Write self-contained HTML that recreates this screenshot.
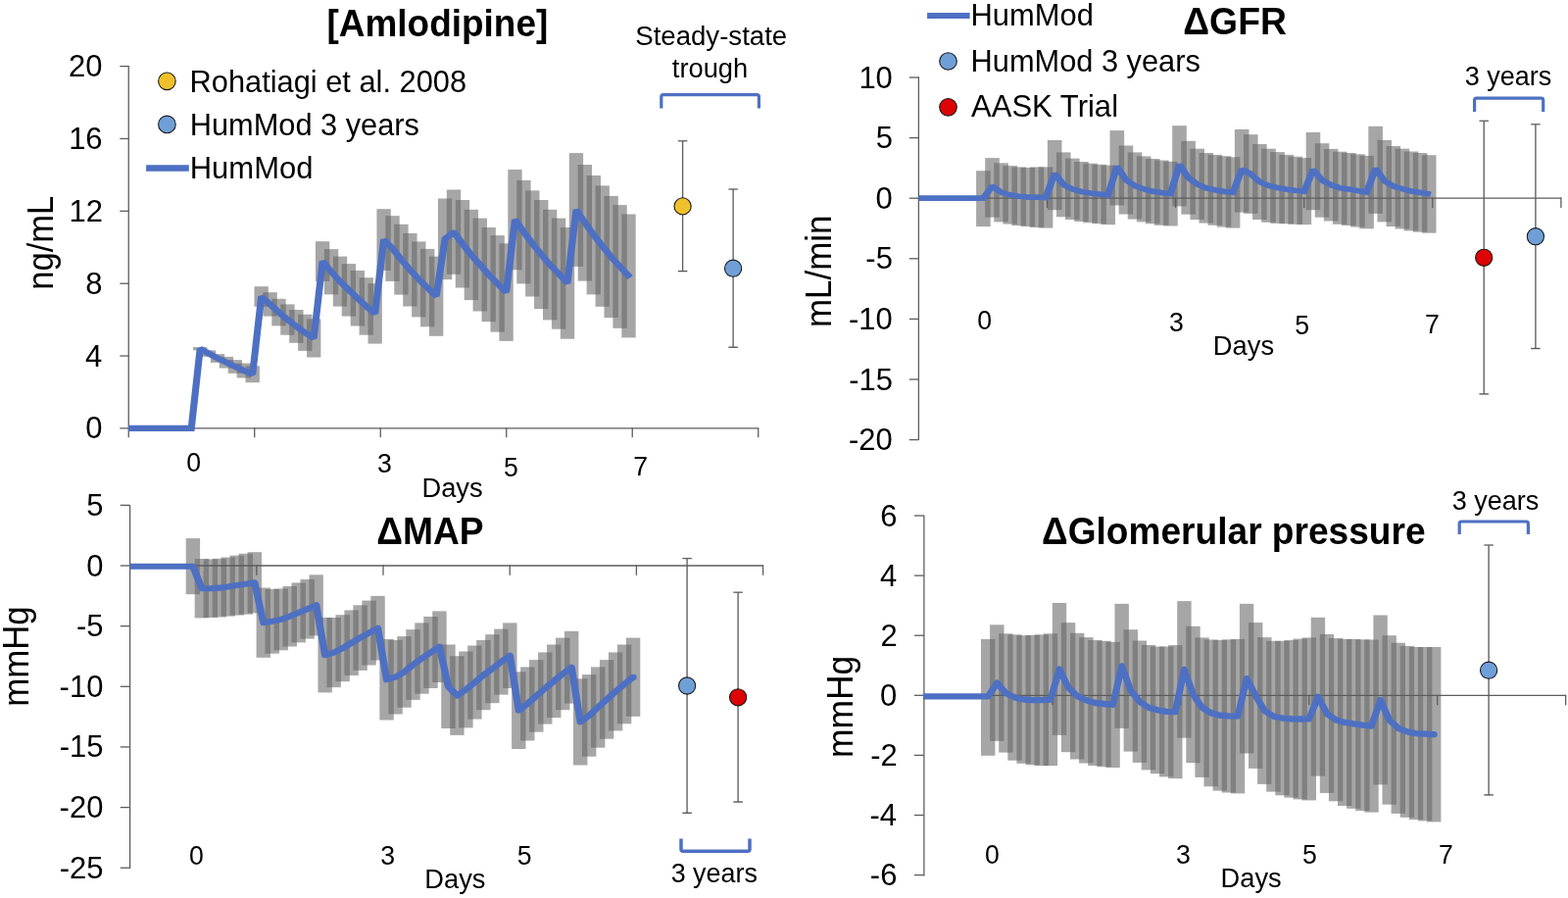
<!DOCTYPE html>
<html lang="en">
<head>
<meta charset="utf-8">
<title>Amlodipine HumMod simulation figure</title>
<style>
html,body{margin:0;padding:0;background:#fff;}
body{width:1600px;height:916px;overflow:hidden;}
svg{display:block;}
svg text{font-family:"Liberation Sans",sans-serif;fill:#000;}
</style>
</head>
<body>
<svg width="1600" height="916" viewBox="0 0 1600 916">
<rect x="0" y="0" width="1600" height="916" fill="#ffffff"/>
<g fill="#646464" fill-opacity="0.573" shape-rendering="auto">
<rect x="197.00" y="354.10" width="14.35" height="3.20"/>
<rect x="205.93" y="357.30" width="14.35" height="6.60"/>
<rect x="214.85" y="361.10" width="14.35" height="8.80"/>
<rect x="223.78" y="363.90" width="14.35" height="11.60"/>
<rect x="232.70" y="367.10" width="14.35" height="13.70"/>
<rect x="241.62" y="370.50" width="14.35" height="15.00"/>
<rect x="250.55" y="373.30" width="14.35" height="16.90"/>
<rect x="259.48" y="292.20" width="14.35" height="20.60"/>
<rect x="268.40" y="298.20" width="14.35" height="24.40"/>
<rect x="277.32" y="304.80" width="14.35" height="27.60"/>
<rect x="286.25" y="310.40" width="14.35" height="31.30"/>
<rect x="295.18" y="316.00" width="14.35" height="33.80"/>
<rect x="304.10" y="320.70" width="14.35" height="37.20"/>
<rect x="313.02" y="325.40" width="14.35" height="39.10"/>
<rect x="321.95" y="246.20" width="14.35" height="40.70"/>
<rect x="330.88" y="254.10" width="14.35" height="46.30"/>
<rect x="339.80" y="261.60" width="14.35" height="51.00"/>
<rect x="348.73" y="269.10" width="14.35" height="53.50"/>
<rect x="357.65" y="276.00" width="14.35" height="56.50"/>
<rect x="366.58" y="283.20" width="14.35" height="58.50"/>
<rect x="375.50" y="289.20" width="14.35" height="61.40"/>
<rect x="384.43" y="213.20" width="14.35" height="62.80"/>
<rect x="393.35" y="220.20" width="14.35" height="66.70"/>
<rect x="402.27" y="228.80" width="14.35" height="71.80"/>
<rect x="411.20" y="238.00" width="14.35" height="74.50"/>
<rect x="420.12" y="246.40" width="14.35" height="77.00"/>
<rect x="429.05" y="253.90" width="14.35" height="79.40"/>
<rect x="437.98" y="261.60" width="14.35" height="81.20"/>
<rect x="446.90" y="202.50" width="14.35" height="82.60"/>
<rect x="455.83" y="193.50" width="14.35" height="86.30"/>
<rect x="464.75" y="204.00" width="14.35" height="89.50"/>
<rect x="473.68" y="213.80" width="14.35" height="92.30"/>
<rect x="482.60" y="222.60" width="14.35" height="94.90"/>
<rect x="491.53" y="232.00" width="14.35" height="96.20"/>
<rect x="500.45" y="240.10" width="14.35" height="98.50"/>
<rect x="509.38" y="248.30" width="14.35" height="99.60"/>
<rect x="518.30" y="172.90" width="14.35" height="102.40"/>
<rect x="527.23" y="183.90" width="14.35" height="105.50"/>
<rect x="536.15" y="194.30" width="14.35" height="108.20"/>
<rect x="545.08" y="204.00" width="14.35" height="111.10"/>
<rect x="554.00" y="213.80" width="14.35" height="112.60"/>
<rect x="562.92" y="222.60" width="14.35" height="113.10"/>
<rect x="571.85" y="232.00" width="14.35" height="113.70"/>
<rect x="580.78" y="156.10" width="14.35" height="115.80"/>
<rect x="589.70" y="168.00" width="14.35" height="118.60"/>
<rect x="598.62" y="179.00" width="14.35" height="121.40"/>
<rect x="607.55" y="189.40" width="14.35" height="123.40"/>
<rect x="616.48" y="199.90" width="14.35" height="124.20"/>
<rect x="625.40" y="209.10" width="14.35" height="125.70"/>
<rect x="634.33" y="218.50" width="14.35" height="125.90"/>
</g>
<line x1="131.25" y1="66.95" x2="131.25" y2="446.30" stroke="#5c5c5c" stroke-width="1.3" />
<line x1="122.30" y1="436.90" x2="773.75" y2="436.90" stroke="#5c5c5c" stroke-width="1.3" />
<line x1="122.30" y1="363.04" x2="131.25" y2="363.04" stroke="#5c5c5c" stroke-width="1.3" />
<line x1="122.30" y1="289.18" x2="131.25" y2="289.18" stroke="#5c5c5c" stroke-width="1.3" />
<line x1="122.30" y1="215.32" x2="131.25" y2="215.32" stroke="#5c5c5c" stroke-width="1.3" />
<line x1="122.30" y1="141.46" x2="131.25" y2="141.46" stroke="#5c5c5c" stroke-width="1.3" />
<line x1="122.30" y1="67.60" x2="131.25" y2="67.60" stroke="#5c5c5c" stroke-width="1.3" />
<line x1="259.75" y1="436.25" x2="259.75" y2="446.30" stroke="#5c5c5c" stroke-width="1.3" />
<line x1="388.25" y1="436.25" x2="388.25" y2="446.30" stroke="#5c5c5c" stroke-width="1.3" />
<line x1="516.75" y1="436.25" x2="516.75" y2="446.30" stroke="#5c5c5c" stroke-width="1.3" />
<line x1="645.25" y1="436.25" x2="645.25" y2="446.30" stroke="#5c5c5c" stroke-width="1.3" />
<line x1="773.75" y1="436.25" x2="773.75" y2="446.30" stroke="#5c5c5c" stroke-width="1.3" />
<polyline transform="scale(1.17,1)" points="112.18,436.90 166.88,436.90 174.51,355.70 182.14,360.60 189.76,365.50 197.39,369.70 205.02,373.95 212.65,378.00 220.28,381.75 227.91,302.50 235.53,310.40 243.16,318.60 250.79,326.05 258.42,332.90 266.05,339.30 273.68,344.95 281.30,266.55 288.93,277.25 296.56,287.10 304.19,295.85 311.82,304.25 319.44,312.45 327.07,319.90 334.70,244.60 342.33,253.55 349.96,264.70 357.59,275.25 365.21,284.90 372.84,293.60 380.47,302.20 388.10,243.80 395.73,236.65 403.35,248.75 410.98,259.95 418.61,270.05 426.24,280.10 433.87,289.35 441.50,298.10 449.12,224.10 456.75,236.65 464.38,248.40 472.01,259.55 479.64,270.10 487.26,279.15 494.89,288.85 502.52,214.00 510.15,227.30 517.78,239.70 525.41,251.10 533.03,262.00 540.66,271.95 549.58,283.05" fill="none" stroke="#4e70c3" stroke-width="6.1" stroke-linecap="butt" stroke-linejoin="miter" stroke-miterlimit="1.5"/>
<circle cx="170.40" cy="82.80" r="8.8" fill="#f0c02c" stroke="#1a1a1a" stroke-width="1.1"/>
<circle cx="170.40" cy="126.90" r="8.8" fill="#709fd8" stroke="#1a1a1a" stroke-width="1.1"/>
<line x1="149.10" y1="171.50" x2="192.80" y2="171.50" stroke="#4e70c3" stroke-width="6.7" />
<path d="M674.80,110.40 L674.80,98.60 Q674.80,96.60 676.80,96.60 L772.40,96.60 Q774.40,96.60 774.40,98.60 L774.40,110.40" fill="none" stroke="#4e70c3" stroke-width="3.2"/>
<line x1="696.60" y1="143.80" x2="696.60" y2="276.60" stroke="#5e5e5e" stroke-width="1.35" />
<line x1="691.85" y1="143.80" x2="701.35" y2="143.80" stroke="#5e5e5e" stroke-width="1.3" />
<line x1="691.85" y1="276.60" x2="701.35" y2="276.60" stroke="#555555" stroke-width="1.35" />
<circle cx="696.60" cy="210.40" r="8.6" fill="#f0c02c" stroke="#1a1a1a" stroke-width="1.1"/>
<line x1="748.10" y1="193.00" x2="748.10" y2="354.20" stroke="#5e5e5e" stroke-width="1.35" />
<line x1="743.35" y1="193.00" x2="752.85" y2="193.00" stroke="#5e5e5e" stroke-width="1.3" />
<line x1="743.35" y1="354.20" x2="752.85" y2="354.20" stroke="#555555" stroke-width="1.35" />
<circle cx="748.10" cy="273.70" r="8.6" fill="#709fd8" stroke="#1a1a1a" stroke-width="1.1"/>
<text transform="translate(87.18,447.40) scale(0.9609,1)" font-size="32.26">0</text>
<text transform="translate(87.02,373.54) scale(0.9609,1)" font-size="32.26">4</text>
<text transform="translate(87.33,299.68) scale(0.9609,1)" font-size="32.26">8</text>
<text transform="translate(70.44,225.82) scale(0.9609,1)" font-size="32.26">12</text>
<text transform="translate(70.13,151.96) scale(0.9609,1)" font-size="32.26">16</text>
<text transform="translate(69.98,78.10) scale(0.9609,1)" font-size="32.26">20</text>
<text transform="translate(54.00,295.80) rotate(-90) scale(0.9494,1)" font-size="36.42">ng/mL</text>
<text transform="translate(333.47,37.00) scale(0.9600,1)" font-size="38.51" font-weight="bold">[Amlodipine]</text>
<text transform="translate(193.54,93.50) scale(0.9549,1)" font-size="32.26">Rohatiagi et al. 2008</text>
<text transform="translate(193.74,137.50) scale(0.9539,1)" font-size="32.26">HumMod 3 years</text>
<text transform="translate(193.72,181.50) scale(0.9608,1)" font-size="32.26">HumMod</text>
<text transform="translate(648.26,46.20) scale(0.9945,1)" font-size="27.76">Steady-state</text>
<text transform="translate(685.79,79.30) scale(0.9847,1)" font-size="27.76">trough</text>
<text transform="translate(190.13,480.70) scale(0.9609,1)" font-size="27.76">0</text>
<text transform="translate(385.10,482.20) scale(0.9609,1)" font-size="27.76">3</text>
<text transform="translate(513.95,485.70) scale(0.9609,1)" font-size="27.76">5</text>
<text transform="translate(646.35,485.30) scale(0.9609,1)" font-size="27.76">7</text>
<text transform="translate(430.41,506.75) scale(0.9852,1)" font-size="27.76">Days</text>
<g fill="#646464" fill-opacity="0.573" shape-rendering="auto">
<rect x="996.10" y="174.20" width="14.60" height="56.90"/>
<rect x="1005.20" y="161.10" width="14.60" height="60.60"/>
<rect x="1014.29" y="166.30" width="14.60" height="60.10"/>
<rect x="1023.39" y="169.10" width="14.60" height="59.50"/>
<rect x="1032.48" y="170.40" width="14.60" height="59.70"/>
<rect x="1041.58" y="171.00" width="14.60" height="60.10"/>
<rect x="1050.68" y="170.40" width="14.60" height="61.60"/>
<rect x="1059.77" y="170.40" width="14.60" height="62.20"/>
<rect x="1068.87" y="142.90" width="14.60" height="71.30"/>
<rect x="1077.96" y="155.40" width="14.60" height="65.90"/>
<rect x="1087.06" y="161.60" width="14.60" height="62.50"/>
<rect x="1096.16" y="165.00" width="14.60" height="61.00"/>
<rect x="1105.25" y="166.70" width="14.60" height="60.60"/>
<rect x="1114.35" y="167.80" width="14.60" height="60.50"/>
<rect x="1123.44" y="168.60" width="14.60" height="60.60"/>
<rect x="1132.54" y="133.10" width="14.60" height="76.40"/>
<rect x="1141.64" y="148.50" width="14.60" height="70.00"/>
<rect x="1150.73" y="155.40" width="14.60" height="68.20"/>
<rect x="1159.83" y="159.40" width="14.60" height="67.00"/>
<rect x="1168.92" y="162.00" width="14.60" height="66.30"/>
<rect x="1178.02" y="163.50" width="14.60" height="66.30"/>
<rect x="1187.12" y="164.80" width="14.60" height="65.70"/>
<rect x="1196.21" y="128.20" width="14.60" height="82.20"/>
<rect x="1205.31" y="143.80" width="14.60" height="74.90"/>
<rect x="1214.40" y="151.70" width="14.60" height="72.40"/>
<rect x="1223.50" y="156.00" width="14.60" height="71.60"/>
<rect x="1232.60" y="157.90" width="14.60" height="71.90"/>
<rect x="1241.69" y="159.20" width="14.60" height="72.40"/>
<rect x="1250.79" y="160.30" width="14.60" height="72.30"/>
<rect x="1259.88" y="132.00" width="14.60" height="84.60"/>
<rect x="1268.98" y="137.20" width="14.60" height="80.70"/>
<rect x="1278.08" y="147.00" width="14.60" height="77.10"/>
<rect x="1287.17" y="151.70" width="14.60" height="75.10"/>
<rect x="1296.27" y="155.10" width="14.60" height="72.80"/>
<rect x="1305.36" y="157.90" width="14.60" height="70.40"/>
<rect x="1314.46" y="159.70" width="14.60" height="69.10"/>
<rect x="1323.56" y="161.10" width="14.60" height="68.10"/>
<rect x="1332.65" y="135.00" width="14.60" height="79.20"/>
<rect x="1341.75" y="146.20" width="14.60" height="75.50"/>
<rect x="1350.84" y="151.90" width="14.60" height="73.60"/>
<rect x="1359.94" y="154.70" width="14.60" height="74.10"/>
<rect x="1369.04" y="156.00" width="14.60" height="74.10"/>
<rect x="1378.13" y="157.30" width="14.60" height="74.30"/>
<rect x="1387.23" y="158.80" width="14.60" height="74.50"/>
<rect x="1396.32" y="128.80" width="14.60" height="89.10"/>
<rect x="1405.42" y="142.90" width="14.60" height="83.50"/>
<rect x="1414.52" y="149.00" width="14.60" height="82.10"/>
<rect x="1423.61" y="151.70" width="14.60" height="81.80"/>
<rect x="1432.71" y="154.50" width="14.60" height="80.90"/>
<rect x="1441.80" y="156.00" width="14.60" height="80.70"/>
<rect x="1450.90" y="158.20" width="14.60" height="79.50"/>
</g>
<line x1="937.40" y1="78.15" x2="937.40" y2="449.05" stroke="#5c5c5c" stroke-width="1.3" />
<line x1="937.40" y1="202.20" x2="1593.20" y2="202.20" stroke="#5c5c5c" stroke-width="1.3" />
<line x1="927.80" y1="448.60" x2="937.40" y2="448.60" stroke="#5c5c5c" stroke-width="1.3" />
<line x1="927.80" y1="387.00" x2="937.40" y2="387.00" stroke="#5c5c5c" stroke-width="1.3" />
<line x1="927.80" y1="325.40" x2="937.40" y2="325.40" stroke="#5c5c5c" stroke-width="1.3" />
<line x1="927.80" y1="263.80" x2="937.40" y2="263.80" stroke="#5c5c5c" stroke-width="1.3" />
<line x1="927.80" y1="202.20" x2="937.40" y2="202.20" stroke="#5c5c5c" stroke-width="1.3" />
<line x1="927.80" y1="140.60" x2="937.40" y2="140.60" stroke="#5c5c5c" stroke-width="1.3" />
<line x1="927.80" y1="79.00" x2="937.40" y2="79.00" stroke="#5c5c5c" stroke-width="1.3" />
<line x1="1068.50" y1="201.55" x2="1068.50" y2="211.90" stroke="#5c5c5c" stroke-width="1.3" />
<line x1="1199.60" y1="201.55" x2="1199.60" y2="211.90" stroke="#5c5c5c" stroke-width="1.3" />
<line x1="1330.70" y1="201.55" x2="1330.70" y2="211.90" stroke="#5c5c5c" stroke-width="1.3" />
<line x1="1461.80" y1="201.55" x2="1461.80" y2="211.90" stroke="#5c5c5c" stroke-width="1.3" />
<line x1="1592.90" y1="201.55" x2="1592.90" y2="211.90" stroke="#5c5c5c" stroke-width="1.3" />
<polyline transform="scale(1.25,1)" points="749.92,202.20 802.72,202.20 810.00,189.90 817.27,196.35 824.55,198.85 831.83,200.25 839.10,201.05 846.38,201.20 853.66,201.50 860.93,177.05 868.21,188.35 875.49,192.85 882.76,195.50 890.04,197.00 897.32,198.05 904.60,198.90 911.87,169.80 919.15,183.50 926.43,189.50 933.70,192.90 940.98,195.15 948.26,196.65 955.53,197.65 962.81,167.80 970.09,181.25 977.36,187.90 984.64,191.80 991.92,193.85 999.19,195.40 1006.47,196.45 1013.75,172.80 1021.02,177.55 1028.30,185.55 1035.58,189.25 1042.85,191.50 1050.13,193.10 1057.41,194.25 1064.68,195.15 1071.96,173.10 1079.24,183.95 1086.52,188.70 1093.79,191.75 1101.07,193.05 1108.35,194.45 1115.62,196.05 1122.90,171.85 1130.18,184.65 1137.45,190.05 1144.73,192.60 1152.01,194.95 1159.28,196.35 1167.98,198.26" fill="none" stroke="#4e70c3" stroke-width="5.7" stroke-linecap="butt" stroke-linejoin="miter" stroke-miterlimit="1.5"/>
<line x1="946.10" y1="15.95" x2="989.60" y2="15.95" stroke="#4e70c3" stroke-width="5.9" />
<circle cx="967.50" cy="62.50" r="8.8" fill="#709fd8" stroke="#1a1a1a" stroke-width="1.1"/>
<circle cx="967.50" cy="109.30" r="8.8" fill="#dc0404" stroke="#1a1a1a" stroke-width="1.1"/>
<path d="M1504.60,114.00 L1504.60,102.20 Q1504.60,100.20 1506.60,100.20 L1572.70,100.20 Q1574.70,100.20 1574.70,102.20 L1574.70,114.00" fill="none" stroke="#4e70c3" stroke-width="3.2"/>
<line x1="1514.20" y1="123.30" x2="1514.20" y2="401.90" stroke="#5e5e5e" stroke-width="1.35" />
<line x1="1509.45" y1="123.30" x2="1518.95" y2="123.30" stroke="#5e5e5e" stroke-width="1.3" />
<line x1="1509.45" y1="401.90" x2="1518.95" y2="401.90" stroke="#555555" stroke-width="1.35" />
<circle cx="1514.20" cy="262.80" r="8.6" fill="#dc0404" stroke="#1a1a1a" stroke-width="1.1"/>
<line x1="1566.90" y1="126.80" x2="1566.90" y2="355.50" stroke="#5e5e5e" stroke-width="1.35" />
<line x1="1562.15" y1="126.80" x2="1571.65" y2="126.80" stroke="#5e5e5e" stroke-width="1.3" />
<line x1="1562.15" y1="355.50" x2="1571.65" y2="355.50" stroke="#555555" stroke-width="1.35" />
<circle cx="1566.90" cy="241.20" r="8.6" fill="#709fd8" stroke="#1a1a1a" stroke-width="1.1"/>
<text transform="translate(865.99,459.10) scale(0.9609,1)" font-size="32.26">-20</text>
<text transform="translate(866.15,397.50) scale(0.9609,1)" font-size="32.26">-15</text>
<text transform="translate(865.99,335.90) scale(0.9609,1)" font-size="32.26">-10</text>
<text transform="translate(883.35,274.30) scale(0.9609,1)" font-size="32.26">-5</text>
<text transform="translate(893.58,212.70) scale(0.9609,1)" font-size="32.26">0</text>
<text transform="translate(893.74,151.10) scale(0.9609,1)" font-size="32.26">5</text>
<text transform="translate(876.38,89.50) scale(0.9609,1)" font-size="32.26">10</text>
<text transform="translate(848.10,333.97) rotate(-90) scale(0.9585,1)" font-size="36.42">mL/min</text>
<text transform="translate(1207.26,34.60) scale(0.9698,1)" font-size="38.51" font-weight="bold">ΔGFR</text>
<text transform="translate(990.52,25.60) scale(0.9592,1)" font-size="32.26">HumMod</text>
<text transform="translate(990.54,72.60) scale(0.9547,1)" font-size="32.26">HumMod 3 years</text>
<text transform="translate(991.00,119.30) scale(0.9624,1)" font-size="32.26">AASK Trial</text>
<text transform="translate(1494.72,87.40) scale(0.9741,1)" font-size="27.76">3 years</text>
<text transform="translate(997.28,335.60) scale(0.9609,1)" font-size="27.76">0</text>
<text transform="translate(1193.00,338.20) scale(0.9609,1)" font-size="27.76">3</text>
<text transform="translate(1321.35,340.50) scale(0.9609,1)" font-size="27.76">5</text>
<text transform="translate(1454.10,340.20) scale(0.9609,1)" font-size="27.76">7</text>
<text transform="translate(1237.81,361.50) scale(0.9860,1)" font-size="27.76">Days</text>
<g fill="#646464" fill-opacity="0.573" shape-rendering="auto">
<rect x="189.70" y="549.10" width="14.40" height="57.10"/>
<rect x="198.68" y="570.00" width="14.40" height="60.40"/>
<rect x="207.67" y="570.40" width="14.40" height="59.60"/>
<rect x="216.65" y="569.80" width="14.40" height="59.70"/>
<rect x="225.64" y="568.50" width="14.40" height="60.10"/>
<rect x="234.62" y="566.60" width="14.40" height="61.00"/>
<rect x="243.60" y="564.70" width="14.40" height="62.00"/>
<rect x="252.59" y="563.20" width="14.40" height="62.20"/>
<rect x="261.57" y="599.50" width="14.40" height="71.30"/>
<rect x="270.56" y="601.00" width="14.40" height="65.70"/>
<rect x="279.54" y="600.40" width="14.40" height="62.90"/>
<rect x="288.52" y="598.00" width="14.40" height="61.50"/>
<rect x="297.51" y="594.40" width="14.40" height="61.00"/>
<rect x="306.49" y="591.00" width="14.40" height="60.60"/>
<rect x="315.48" y="586.30" width="14.40" height="62.00"/>
<rect x="324.46" y="629.90" width="14.40" height="76.50"/>
<rect x="333.44" y="630.00" width="14.40" height="71.10"/>
<rect x="342.43" y="627.20" width="14.40" height="68.00"/>
<rect x="351.41" y="622.40" width="14.40" height="66.60"/>
<rect x="360.40" y="617.30" width="14.40" height="66.60"/>
<rect x="369.38" y="612.60" width="14.40" height="65.90"/>
<rect x="378.36" y="607.90" width="14.40" height="65.60"/>
<rect x="387.35" y="651.90" width="14.40" height="82.60"/>
<rect x="396.33" y="652.90" width="14.40" height="75.60"/>
<rect x="405.32" y="649.10" width="14.40" height="72.60"/>
<rect x="414.30" y="642.20" width="14.40" height="71.70"/>
<rect x="423.28" y="635.40" width="14.40" height="72.30"/>
<rect x="432.27" y="629.00" width="14.40" height="73.00"/>
<rect x="441.25" y="623.40" width="14.40" height="72.60"/>
<rect x="450.24" y="657.50" width="14.40" height="85.50"/>
<rect x="459.22" y="669.20" width="14.40" height="80.70"/>
<rect x="468.20" y="664.50" width="14.40" height="77.90"/>
<rect x="477.19" y="658.50" width="14.40" height="75.10"/>
<rect x="486.17" y="652.90" width="14.40" height="71.30"/>
<rect x="495.16" y="647.20" width="14.40" height="70.00"/>
<rect x="504.14" y="641.60" width="14.40" height="67.00"/>
<rect x="513.12" y="635.40" width="14.40" height="66.60"/>
<rect x="522.11" y="685.30" width="14.40" height="78.70"/>
<rect x="531.09" y="680.40" width="14.40" height="75.10"/>
<rect x="540.08" y="673.10" width="14.40" height="73.60"/>
<rect x="549.06" y="665.40" width="14.40" height="73.20"/>
<rect x="558.04" y="657.50" width="14.40" height="74.60"/>
<rect x="567.03" y="650.60" width="14.40" height="73.60"/>
<rect x="576.01" y="643.80" width="14.40" height="73.80"/>
<rect x="585.00" y="692.30" width="14.40" height="88.20"/>
<rect x="593.98" y="688.10" width="14.40" height="83.60"/>
<rect x="602.96" y="680.40" width="14.40" height="82.30"/>
<rect x="611.95" y="673.10" width="14.40" height="80.60"/>
<rect x="620.93" y="665.40" width="14.40" height="80.00"/>
<rect x="629.92" y="657.50" width="14.40" height="80.80"/>
<rect x="638.90" y="650.60" width="14.40" height="80.20"/>
</g>
<line x1="132.60" y1="515.15" x2="132.60" y2="886.05" stroke="#5c5c5c" stroke-width="1.3" />
<line x1="132.60" y1="577.00" x2="778.90" y2="577.00" stroke="#5c5c5c" stroke-width="1.3" />
<line x1="122.80" y1="885.25" x2="132.60" y2="885.25" stroke="#5c5c5c" stroke-width="1.3" />
<line x1="122.80" y1="823.60" x2="132.60" y2="823.60" stroke="#5c5c5c" stroke-width="1.3" />
<line x1="122.80" y1="761.95" x2="132.60" y2="761.95" stroke="#5c5c5c" stroke-width="1.3" />
<line x1="122.80" y1="700.30" x2="132.60" y2="700.30" stroke="#5c5c5c" stroke-width="1.3" />
<line x1="122.80" y1="638.65" x2="132.60" y2="638.65" stroke="#5c5c5c" stroke-width="1.3" />
<line x1="122.80" y1="577.00" x2="132.60" y2="577.00" stroke="#5c5c5c" stroke-width="1.3" />
<line x1="122.80" y1="515.35" x2="132.60" y2="515.35" stroke="#5c5c5c" stroke-width="1.3" />
<line x1="261.80" y1="576.35" x2="261.80" y2="586.80" stroke="#5c5c5c" stroke-width="1.3" />
<line x1="391.00" y1="576.35" x2="391.00" y2="586.80" stroke="#5c5c5c" stroke-width="1.3" />
<line x1="520.20" y1="576.35" x2="520.20" y2="586.80" stroke="#5c5c5c" stroke-width="1.3" />
<line x1="649.40" y1="576.35" x2="649.40" y2="586.80" stroke="#5c5c5c" stroke-width="1.3" />
<line x1="778.60" y1="576.35" x2="778.60" y2="586.80" stroke="#5c5c5c" stroke-width="1.3" />
<polyline transform="scale(1.2,1)" points="110.50,577.80 164.08,577.80 171.57,600.20 179.06,600.20 186.54,599.65 194.03,598.55 201.52,597.10 209.00,595.70 216.49,594.30 223.98,635.15 231.46,633.85 238.95,631.85 246.44,628.75 253.92,624.90 261.41,621.30 268.90,617.30 276.38,668.15 283.87,665.55 291.36,661.20 298.84,655.70 306.33,650.60 313.82,645.55 321.30,640.70 328.79,693.20 336.28,690.70 343.76,685.40 351.25,678.05 358.74,671.55 366.22,665.50 373.71,659.70 381.20,700.25 388.68,709.55 396.17,703.45 403.66,696.05 411.14,688.55 418.63,682.20 426.12,675.10 433.60,668.70 441.09,724.65 448.58,717.95 456.06,709.90 463.55,702.00 471.04,694.80 478.52,687.40 486.01,680.70 493.50,736.40 500.98,729.90 508.47,721.55 515.96,713.40 523.44,705.40 530.93,697.90 538.42,690.70" fill="none" stroke="#4e70c3" stroke-width="6.1" stroke-linecap="butt" stroke-linejoin="round"/>
<ellipse cx="646.10" cy="690.70" rx="3.66" ry="3.05" fill="#4e70c3"/>
<line x1="701.10" y1="569.60" x2="701.10" y2="829.25" stroke="#5e5e5e" stroke-width="1.35" />
<line x1="696.35" y1="569.60" x2="705.85" y2="569.60" stroke="#5e5e5e" stroke-width="1.3" />
<line x1="696.35" y1="829.25" x2="705.85" y2="829.25" stroke="#555555" stroke-width="1.35" />
<circle cx="701.10" cy="699.50" r="8.6" fill="#709fd8" stroke="#1a1a1a" stroke-width="1.1"/>
<line x1="753.10" y1="604.20" x2="753.10" y2="818.00" stroke="#5e5e5e" stroke-width="1.35" />
<line x1="748.35" y1="604.20" x2="757.85" y2="604.20" stroke="#5e5e5e" stroke-width="1.3" />
<line x1="748.35" y1="818.00" x2="757.85" y2="818.00" stroke="#555555" stroke-width="1.35" />
<circle cx="753.10" cy="711.30" r="8.6" fill="#dc0404" stroke="#1a1a1a" stroke-width="1.1"/>
<path d="M695.00,855.50 L695.00,866.20 Q695.00,868.20 697.00,868.20 L763.00,868.20 Q765.00,868.20 765.00,866.20 L765.00,855.50" fill="none" stroke="#4e70c3" stroke-width="3.5"/>
<text transform="translate(60.74,895.75) scale(0.9609,1)" font-size="32.26">-25</text>
<text transform="translate(60.59,834.10) scale(0.9609,1)" font-size="32.26">-20</text>
<text transform="translate(60.74,772.45) scale(0.9609,1)" font-size="32.26">-15</text>
<text transform="translate(60.59,710.80) scale(0.9609,1)" font-size="32.26">-10</text>
<text transform="translate(77.95,649.15) scale(0.9609,1)" font-size="32.26">-5</text>
<text transform="translate(88.18,587.50) scale(0.9609,1)" font-size="32.26">0</text>
<text transform="translate(88.33,525.85) scale(0.9609,1)" font-size="32.26">5</text>
<text transform="translate(29.30,720.66) rotate(-90) scale(0.9548,1)" font-size="36.42">mmHg</text>
<text transform="translate(384.26,554.70) scale(0.9660,1)" font-size="38.51" font-weight="bold">ΔMAP</text>
<text transform="translate(684.67,899.80) scale(0.9696,1)" font-size="27.76">3 years</text>
<text transform="translate(192.93,881.80) scale(0.9609,1)" font-size="27.76">0</text>
<text transform="translate(388.20,881.80) scale(0.9609,1)" font-size="27.76">3</text>
<text transform="translate(527.85,881.80) scale(0.9609,1)" font-size="27.76">5</text>
<text transform="translate(433.32,906.00) scale(0.9819,1)" font-size="27.76">Days</text>
<g fill="#646464" fill-opacity="0.573" shape-rendering="auto">
<rect x="1001.00" y="651.90" width="14.40" height="118.90"/>
<rect x="1010.10" y="637.30" width="14.40" height="118.60"/>
<rect x="1019.20" y="646.30" width="14.40" height="121.30"/>
<rect x="1028.30" y="647.30" width="14.40" height="128.40"/>
<rect x="1037.40" y="648.20" width="14.40" height="130.60"/>
<rect x="1046.50" y="647.80" width="14.40" height="132.50"/>
<rect x="1055.60" y="647.30" width="14.40" height="133.80"/>
<rect x="1064.70" y="646.30" width="14.40" height="134.80"/>
<rect x="1073.80" y="615.00" width="14.40" height="134.90"/>
<rect x="1082.90" y="635.10" width="14.40" height="132.10"/>
<rect x="1092.00" y="645.80" width="14.40" height="128.70"/>
<rect x="1101.10" y="650.10" width="14.40" height="128.40"/>
<rect x="1110.20" y="652.90" width="14.40" height="128.20"/>
<rect x="1119.30" y="653.80" width="14.40" height="128.40"/>
<rect x="1128.40" y="654.80" width="14.40" height="128.20"/>
<rect x="1137.50" y="615.90" width="14.40" height="127.00"/>
<rect x="1146.60" y="642.20" width="14.40" height="124.40"/>
<rect x="1155.70" y="653.50" width="14.40" height="124.40"/>
<rect x="1164.80" y="658.00" width="14.40" height="127.40"/>
<rect x="1173.90" y="659.50" width="14.40" height="129.70"/>
<rect x="1183.00" y="659.50" width="14.40" height="132.90"/>
<rect x="1192.10" y="658.10" width="14.40" height="136.10"/>
<rect x="1201.20" y="613.10" width="14.40" height="139.60"/>
<rect x="1210.30" y="638.80" width="14.40" height="139.40"/>
<rect x="1219.40" y="650.40" width="14.40" height="142.50"/>
<rect x="1228.50" y="652.50" width="14.40" height="149.80"/>
<rect x="1237.60" y="652.90" width="14.40" height="153.70"/>
<rect x="1246.70" y="652.30" width="14.40" height="156.20"/>
<rect x="1255.80" y="651.90" width="14.40" height="157.50"/>
<rect x="1264.90" y="615.90" width="14.40" height="152.60"/>
<rect x="1274.00" y="635.10" width="14.40" height="148.80"/>
<rect x="1283.10" y="650.10" width="14.40" height="149.80"/>
<rect x="1292.20" y="653.80" width="14.40" height="153.80"/>
<rect x="1301.30" y="653.80" width="14.40" height="157.50"/>
<rect x="1310.40" y="652.90" width="14.40" height="160.70"/>
<rect x="1319.50" y="651.60" width="14.40" height="163.80"/>
<rect x="1328.60" y="650.40" width="14.40" height="166.00"/>
<rect x="1337.70" y="629.80" width="14.40" height="161.80"/>
<rect x="1346.80" y="646.90" width="14.40" height="162.00"/>
<rect x="1355.90" y="651.00" width="14.40" height="166.30"/>
<rect x="1365.00" y="651.90" width="14.40" height="170.10"/>
<rect x="1374.10" y="651.90" width="14.40" height="172.90"/>
<rect x="1383.20" y="652.30" width="14.40" height="174.80"/>
<rect x="1392.30" y="652.50" width="14.40" height="176.10"/>
<rect x="1401.40" y="627.50" width="14.40" height="172.90"/>
<rect x="1410.50" y="648.20" width="14.40" height="172.50"/>
<rect x="1419.60" y="655.70" width="14.40" height="174.20"/>
<rect x="1428.70" y="658.90" width="14.40" height="174.90"/>
<rect x="1437.80" y="660.00" width="14.40" height="176.10"/>
<rect x="1446.90" y="660.00" width="14.40" height="177.40"/>
<rect x="1456.00" y="660.00" width="14.40" height="178.40"/>
</g>
<line x1="942.90" y1="525.65" x2="942.90" y2="893.45" stroke="#5c5c5c" stroke-width="1.3" />
<line x1="942.90" y1="709.30" x2="1597.70" y2="709.30" stroke="#5c5c5c" stroke-width="1.3" />
<line x1="933.00" y1="892.60" x2="942.90" y2="892.60" stroke="#5c5c5c" stroke-width="1.3" />
<line x1="933.00" y1="831.50" x2="942.90" y2="831.50" stroke="#5c5c5c" stroke-width="1.3" />
<line x1="933.00" y1="770.40" x2="942.90" y2="770.40" stroke="#5c5c5c" stroke-width="1.3" />
<line x1="933.00" y1="709.30" x2="942.90" y2="709.30" stroke="#5c5c5c" stroke-width="1.3" />
<line x1="933.00" y1="648.20" x2="942.90" y2="648.20" stroke="#5c5c5c" stroke-width="1.3" />
<line x1="933.00" y1="587.10" x2="942.90" y2="587.10" stroke="#5c5c5c" stroke-width="1.3" />
<line x1="933.00" y1="526.00" x2="942.90" y2="526.00" stroke="#5c5c5c" stroke-width="1.3" />
<line x1="1073.85" y1="708.65" x2="1073.85" y2="719.20" stroke="#5c5c5c" stroke-width="1.3" />
<line x1="1204.80" y1="708.65" x2="1204.80" y2="719.20" stroke="#5c5c5c" stroke-width="1.3" />
<line x1="1335.75" y1="708.65" x2="1335.75" y2="719.20" stroke="#5c5c5c" stroke-width="1.3" />
<line x1="1466.70" y1="708.65" x2="1466.70" y2="719.20" stroke="#5c5c5c" stroke-width="1.3" />
<line x1="1597.65" y1="708.65" x2="1597.65" y2="719.20" stroke="#5c5c5c" stroke-width="1.3" />
<polyline transform="scale(1.1,1)" points="856.27,710.40 916.55,710.40 924.82,696.60 933.09,706.95 941.36,711.50 949.64,713.50 957.91,714.05 966.18,714.20 974.45,713.70 982.73,682.45 991.00,701.15 999.27,710.15 1007.55,714.30 1015.82,717.00 1024.09,718.00 1032.36,718.90 1040.64,679.40 1048.91,704.40 1057.18,715.70 1065.45,721.70 1073.73,724.35 1082.00,725.95 1090.27,726.15 1098.55,682.90 1106.82,708.50 1115.09,721.65 1123.36,727.40 1131.64,729.75 1139.91,730.40 1148.18,730.65 1156.45,692.20 1164.73,709.50 1173.00,725.00 1181.27,730.70 1189.55,732.55 1197.82,733.25 1206.09,733.50 1214.36,733.40 1222.64,710.70 1230.91,727.90 1239.18,734.15 1247.45,736.95 1255.73,738.35 1264.00,739.70 1272.27,740.55 1280.55,713.95 1288.82,734.45 1297.09,742.80 1305.36,746.35 1313.64,748.05 1321.91,748.70 1330.18,749.20" fill="none" stroke="#4e70c3" stroke-width="6.3" stroke-linecap="butt" stroke-linejoin="round"/>
<ellipse cx="1463.20" cy="749.20" rx="3.47" ry="3.15" fill="#4e70c3"/>
<path d="M1489.20,545.00 L1489.20,534.00 Q1489.20,532.00 1491.20,532.00 L1557.40,532.00 Q1559.40,532.00 1559.40,534.00 L1559.40,545.00" fill="none" stroke="#4e70c3" stroke-width="3.2"/>
<line x1="1519.10" y1="556.00" x2="1519.10" y2="810.90" stroke="#5e5e5e" stroke-width="1.35" />
<line x1="1514.35" y1="556.00" x2="1523.85" y2="556.00" stroke="#5e5e5e" stroke-width="1.3" />
<line x1="1514.35" y1="810.90" x2="1523.85" y2="810.90" stroke="#555555" stroke-width="1.35" />
<circle cx="1519.10" cy="683.70" r="8.6" fill="#709fd8" stroke="#1a1a1a" stroke-width="1.1"/>
<text transform="translate(887.85,903.10) scale(0.9609,1)" font-size="32.26">-6</text>
<text transform="translate(887.54,842.00) scale(0.9609,1)" font-size="32.26">-4</text>
<text transform="translate(888.16,780.90) scale(0.9609,1)" font-size="32.26">-2</text>
<text transform="translate(898.08,719.80) scale(0.9609,1)" font-size="32.26">0</text>
<text transform="translate(898.55,658.70) scale(0.9609,1)" font-size="32.26">2</text>
<text transform="translate(897.93,597.60) scale(0.9609,1)" font-size="32.26">4</text>
<text transform="translate(898.24,536.50) scale(0.9609,1)" font-size="32.26">6</text>
<text transform="translate(870.30,773.00) rotate(-90) scale(0.9714,1)" font-size="36.42">mmHg</text>
<text transform="translate(1063.02,555.40) scale(0.9637,1)" font-size="38.51" font-weight="bold">ΔGlomerular pressure</text>
<text transform="translate(1481.72,519.90) scale(0.9746,1)" font-size="27.76">3 years</text>
<text transform="translate(1005.03,880.80) scale(0.9609,1)" font-size="27.76">0</text>
<text transform="translate(1199.90,880.80) scale(0.9609,1)" font-size="27.76">3</text>
<text transform="translate(1329.10,880.80) scale(0.9609,1)" font-size="27.76">5</text>
<text transform="translate(1467.90,880.80) scale(0.9609,1)" font-size="27.76">7</text>
<text transform="translate(1245.52,904.50) scale(0.9835,1)" font-size="27.76">Days</text>
</svg>
</body>
</html>
